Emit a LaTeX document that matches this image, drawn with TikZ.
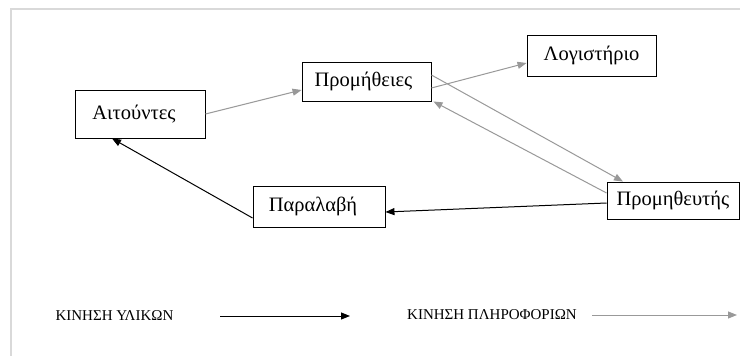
\documentclass[tikz,border=0pt]{standalone}
\usepackage{fontspec}
\setmainfont{Liberation Serif}
\usetikzlibrary{arrows.meta,calc}
\definecolor{framec}{HTML}{D9D9D9}
\definecolor{infoc}{HTML}{999999}
\begin{document}
\begin{tikzpicture}[x=1pt,y=-1pt,
  boxn/.style={draw=black,line width=0.9pt,rectangle,inner sep=0pt,font=\fontsize{20.5}{24}\selectfont},
  legn/.style={inner sep=0pt,font=\fontsize{15}{17}\selectfont},
  matarrow/.style={draw=black,line width=1pt,-{Triangle[length=9pt,width=7pt]}},
  infoarrow/.style={draw=infoc,line width=1pt,-{Triangle[length=9pt,width=7pt]}},
  framel/.style={draw=framec,line width=2pt}]
\useasboundingbox (0,0) rectangle (740,356);
\fill[white] (0,0) rectangle (740,356);
\draw[framel] (11,356) -- (11,9) -- (740,9);

\node[boxn,minimum width=130pt,minimum height=48pt] (ait) at (140,114) {\hspace*{-12pt}Αιτούντες};
\node[boxn,minimum width=129pt,minimum height=39pt] (prom) at (366.5,81.5) {\hspace*{-6pt}Προμήθειες};
\node[boxn,minimum width=129pt,minimum height=41pt] (log) at (591.5,55.5) {Λογιστήριο};
\node[boxn,minimum width=132pt,minimum height=41pt] (par) at (319,206.5) {\hspace*{-12pt}Παραλαβή};
\node[boxn,minimum width=132pt,minimum height=37pt] (prov) at (673,200.5) {Προμηθευτής};

\draw[infoarrow] (ait.east) -- ([yshift=-8.5pt]prom.west);
\draw[infoarrow] ([yshift=-6.5pt]prom.east) -- ([yshift=-7.5pt]log.west);
\draw[infoarrow] ([yshift=6.5pt]prom.east) -- ([xshift=-50pt]prov.north);
\draw[infoarrow] ([yshift=7.5pt]prov.west) -- ([xshift=2pt]prom.south east);
\draw[matarrow] ([yshift=-2.5pt]prov.west) -- ([yshift=-5.5pt]par.east);
\draw[matarrow] ([yshift=-11.5pt]par.west) -- ([xshift=-28pt]ait.south);

\node[legn] (leg1) at (114.5,316) {ΚΙΝΗΣΗ ΥΛΙΚΩΝ};
\node[legn] (leg2) at (492,315) {ΚΙΝΗΣΗ ΠΛΗΡΟΦΟΡΙΩΝ};
\coordinate (m1) at (220,316);
\coordinate (m2) at (350,316);
\coordinate (i1) at (592,315);
\coordinate (i2) at (737,315);
\draw[matarrow] (m1) -- (m2);
\draw[infoarrow] (i1) -- (i2);
\end{tikzpicture}
\end{document}
